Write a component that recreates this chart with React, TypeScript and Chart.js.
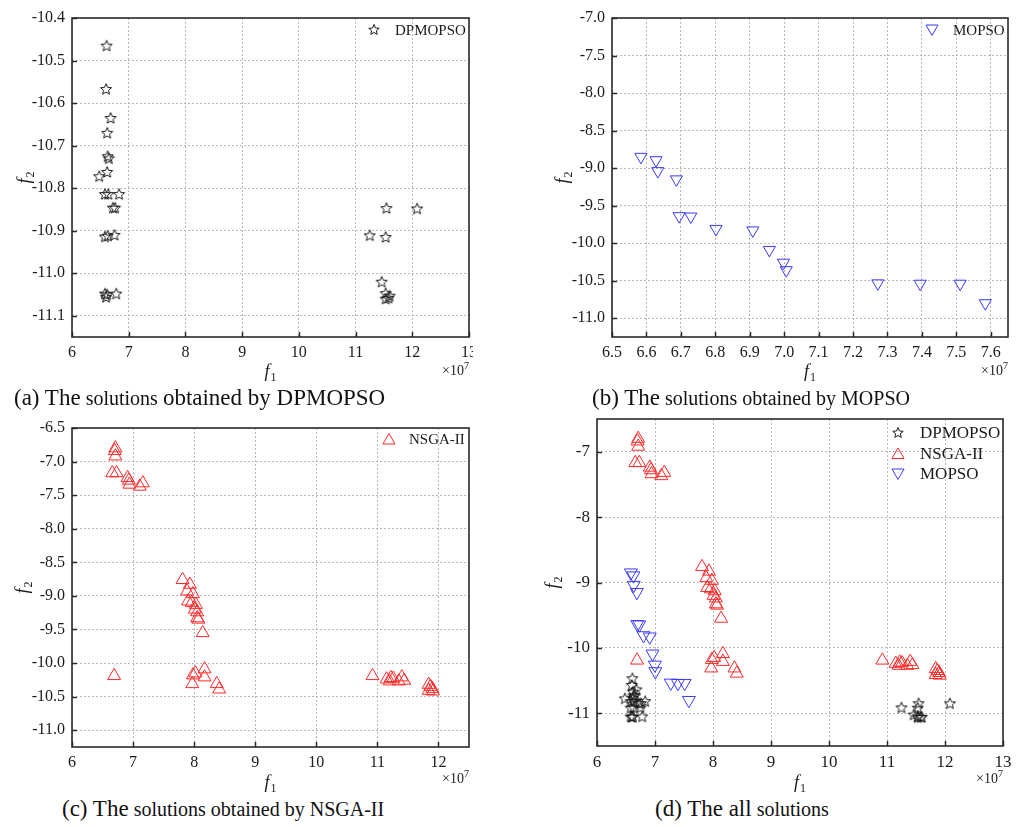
import React, { useEffect, useRef } from 'react';
import { Chart, registerables } from 'chart.js';

Chart.register(...registerables);

const FONT = '"Liberation Serif", "Times New Roman", serif';

// ---- data (f1 in units of 1e7) ----
const DPMOPSO_F1 = [6.61, 6.60, 6.68, 6.62, 6.63, 6.65, 6.62, 6.48, 6.58, 6.64, 6.83, 6.72, 6.76, 6.58, 6.63, 6.75, 6.58, 6.62, 6.78, 6.60,
  11.545, 12.085, 11.25, 11.53, 11.46, 11.53, 11.60, 11.53, 11.58];
const DPMOPSO_F2 = [-10.465, -10.567, -10.635, -10.67, -10.725, -10.73, -10.762, -10.772, -10.814, -10.814, -10.814, -10.846, -10.846, -10.914, -10.912, -10.91, -11.048, -11.05, -11.048, -11.056,
  -10.847, -10.848, -10.911, -10.915, -11.02, -11.047, -11.053, -11.06, -11.058];

const MOPSO_F1 = [6.584, 6.628, 6.633, 6.687, 6.695, 6.729, 6.802, 6.909, 6.957, 6.998, 7.006, 7.272, 7.395, 7.511, 7.584];
const MOPSO_F2 = [-8.85, -8.895, -9.04, -9.15, -9.64, -9.645, -9.81, -9.83, -10.09, -10.26, -10.36, -10.535, -10.54, -10.54, -10.8];

const NSGA_F1 = [6.71, 6.70, 6.71, 6.66, 6.73, 6.91, 6.93, 6.94, 7.16, 7.11,
  7.81, 7.93, 7.885, 7.98, 7.90, 7.96, 8.03, 8.01, 8.05, 8.05, 8.07, 8.14,
  6.69, 7.98, 8.02, 8.17, 8.17, 7.97, 8.37, 8.41,
  10.92, 11.15, 11.22, 11.26, 11.20, 11.40, 11.44, 11.35, 11.84, 11.87, 11.90, 11.91, 11.84];
const NSGA_F2 = [-6.80, -6.84, -6.92, -7.17, -7.17, -7.24, -7.28, -7.34, -7.32, -7.37,
  -8.76, -8.83, -8.93, -8.97, -9.08, -9.10, -9.13, -9.20, -9.24, -9.33, -9.35, -9.55,
  -10.19, -10.18, -10.15, -10.09, -10.21, -10.31, -10.31, -10.39,
  -10.19, -10.24, -10.22, -10.23, -10.27, -10.21, -10.26, -10.27, -10.32, -10.35, -10.38, -10.42, -10.41];

// ---- ticks ----
const A_X_TICKS = [6, 7, 8, 9, 10, 11, 12, 13];
const A_Y_TICKS = [-11.1, -11.0, -10.9, -10.8, -10.7, -10.6, -10.5, -10.4];
const B_X_TICKS = [6.5, 6.6, 6.7, 6.8, 6.9, 7.0, 7.1, 7.2, 7.3, 7.4, 7.5, 7.6];
const B_Y_TICKS = [-11.0, -10.5, -10.0, -9.5, -9.0, -8.5, -8.0, -7.5, -7.0];
const C_X_TICKS = [6, 7, 8, 9, 10, 11, 12];
const C_Y_TICKS = [-11.0, -10.5, -10.0, -9.5, -9.0, -8.5, -8.0, -7.5, -7.0, -6.5];
const D_X_TICKS = [6, 7, 8, 9, 10, 11, 12, 13];
const D_Y_TICKS = [-11, -10, -9, -8, -7];

const LABEL_DP = 'DPMOPSO';
const LABEL_NS = 'NSGA-II';
const LABEL_MO = 'MOPSO';

const C_DP = '#1a1a1a';
const C_NS = '#ff2a2a';
const C_MO = '#3a3aff';

type Kind = 'star' | 'up' | 'down';

function starPath(ctx: CanvasRenderingContext2D, cx: number, cy: number, R: number) {
  const r = R * 0.45;
  ctx.beginPath();
  for (let i = 0; i < 10; i++) {
    const ang = -Math.PI / 2 + (i * Math.PI) / 5;
    const rad = i % 2 === 0 ? R : r;
    const x = cx + rad * Math.cos(ang);
    const y = cy + rad * Math.sin(ang);
    if (i === 0) ctx.moveTo(x, y);
    else ctx.lineTo(x, y);
  }
  ctx.closePath();
}

function starImage(R: number, color: string) {
  const size = Math.ceil(2 * R + 4);
  const c = document.createElement('canvas');
  c.width = size;
  c.height = size;
  const ctx = c.getContext('2d')!;
  ctx.strokeStyle = color;
  ctx.lineWidth = 1;
  starPath(ctx, size / 2, size / 2 + R * 0.08, R);
  ctx.stroke();
  return c;
}

function triPath(ctx: CanvasRenderingContext2D, x: number, y: number, r: number, down: boolean) {
  let rad = down ? Math.PI : 0;
  ctx.beginPath();
  ctx.moveTo(x + Math.sin(rad) * r, y - Math.cos(rad) * r);
  rad += (2 * Math.PI) / 3;
  ctx.lineTo(x + Math.sin(rad) * r, y - Math.cos(rad) * r);
  rad += (2 * Math.PI) / 3;
  ctx.lineTo(x + Math.sin(rad) * r, y - Math.cos(rad) * r);
  ctx.closePath();
}

function drawF(ctx: CanvasRenderingContext2D, x: number, y: number, sub: string, size: number) {
  ctx.textAlign = 'left';
  ctx.textBaseline = 'alphabetic';
  ctx.font = `italic ${size}px ${FONT}`;
  const wf = ctx.measureText('f').width;
  const ss = Math.round(size * 0.65);
  ctx.font = `${ss}px ${FONT}`;
  const ws = ctx.measureText(sub).width;
  const x0 = x - (wf + ws + 1) / 2;
  const base = y + size * 0.3;
  ctx.font = `italic ${size}px ${FONT}`;
  ctx.fillText('f', x0, base);
  ctx.font = `${ss}px ${FONT}`;
  ctx.fillText(sub, x0 + wf + 1, base + size * 0.22);
}

function drawExp(ctx: CanvasRenderingContext2D, right: number, y: number, size: number) {
  ctx.textAlign = 'left';
  ctx.textBaseline = 'alphabetic';
  ctx.font = `${size}px ${FONT}`;
  const w1 = ctx.measureText('×10').width;
  const ss = Math.round(size * 0.72);
  ctx.font = `${ss}px ${FONT}`;
  const w2 = ctx.measureText('7').width;
  const x0 = right - w1 - w2;
  const base = y + size * 0.35;
  ctx.font = `${size}px ${FONT}`;
  ctx.fillText('×10', x0, base);
  ctx.font = `${ss}px ${FONT}`;
  ctx.fillText('7', x0 + w1, base - size * 0.42);
}

type Series = { label: string; f1: number[]; f2: number[]; kind: Kind; color: string; size: number };

type PanelCfg = {
  left: number; top: number; width: number; height: number;
  plot: { l: number; t: number; r: number; b: number };
  xMin: number; xMax: number; yMin: number; yMax: number;
  xTicks: number[]; yTicks: number[];
  xDec: number; yDec: number;
  tickSize: number;
  series: Series[];
  legend: { markerX: number; textX: number; y0: number; dy: number; size: number };
  xTitleY: number; yTitleX: number; expY: number;
};

function Panel({ cfg }: { cfg: PanelCfg }) {
  const ref = useRef<HTMLCanvasElement>(null);
  useEffect(() => {
    const canvas = ref.current!;
    const { plot, width: W, height: H } = cfg;
    const decor = {
      id: 'decor',
      afterDatasetsDraw(chart: any) {
        const { ctx, chartArea } = chart;
        const { left, top, right, bottom } = chartArea;
        const xs = chart.scales.x;
        const ys = chart.scales.y;
        ctx.save();
        ctx.setLineDash([]);
        ctx.strokeStyle = '#2a2a2a';
        ctx.lineWidth = 1.5;
        xs.ticks.forEach((t: any) => {
          const px = Math.round(xs.getPixelForValue(t.value)) + 0.5;
          ctx.beginPath();
          ctx.moveTo(px, bottom);
          ctx.lineTo(px, bottom - 5);
          ctx.stroke();
        });
        ys.ticks.forEach((t: any) => {
          const py = Math.round(ys.getPixelForValue(t.value)) + 0.5;
          ctx.beginPath();
          ctx.moveTo(left, py);
          ctx.lineTo(left + 5, py);
          ctx.stroke();
        });
        ctx.lineWidth = 1.6;
        ctx.strokeRect(left, top, right - left, bottom - top);
        ctx.restore();
      },
      afterDraw(chart: any) {
        const { ctx, chartArea } = chart;
        const { left, top, right, bottom } = chartArea;
        ctx.save();
        ctx.fillStyle = '#1a1a1a';
        drawF(ctx, (left + right) / 2, cfg.xTitleY, '1', 18);
        ctx.save();
        ctx.translate(cfg.yTitleX, (top + bottom) / 2);
        ctx.rotate(-Math.PI / 2);
        drawF(ctx, 0, 0, '2', 18);
        ctx.restore();
        drawExp(ctx, right, cfg.expY, 14);
        const lg = cfg.legend;
        cfg.series.forEach((s, i) => {
          const y = lg.y0 + i * lg.dy;
          ctx.strokeStyle = s.color;
          ctx.lineWidth = 1;
          if (s.kind === 'star') {
            starPath(ctx, lg.markerX, y, 5.5);
          } else {
            triPath(ctx, lg.markerX, y + (s.kind === 'up' ? 1.5 : -1.5), 7, s.kind === 'down');
          }
          ctx.stroke();
          ctx.fillStyle = '#1a1a1a';
          ctx.font = `${lg.size}px ${FONT}`;
          ctx.textAlign = 'left';
          ctx.textBaseline = 'middle';
          ctx.fillText(s.label, lg.textX, y + 1);
        });
        ctx.restore();
      },
    };

    const chart = new Chart(canvas, {
      type: 'scatter',
      data: {
        datasets: cfg.series.map((s) => ({
          label: s.label,
          data: s.f1.map((x, i) => ({ x, y: s.f2[i] })),
          pointStyle: s.kind === 'star' ? starImage(s.size, s.color) : 'triangle',
          pointRotation: s.kind === 'down' ? 180 : 0,
          pointRadius: s.size,
          pointHoverRadius: s.size,
          borderColor: s.color,
          pointBorderColor: s.color,
          backgroundColor: 'rgba(0,0,0,0)',
          pointBackgroundColor: 'rgba(0,0,0,0)',
          borderWidth: 1,
          pointBorderWidth: 1,
          clip: 10,
        })) as any,
      },
      options: {
        responsive: false,
        animation: false,
        devicePixelRatio: 1,
        events: [],
        layout: { autoPadding: false, padding: { left: 0, top: plot.t, right: W - plot.r, bottom: 0 } } as any,
        plugins: { legend: { display: false }, tooltip: { enabled: false } },
        scales: {
          x: {
            type: 'linear',
            position: 'bottom',
            min: cfg.xMin,
            max: cfg.xMax,
            afterBuildTicks: (s: any) => {
              s.ticks = cfg.xTicks.map((v) => ({ value: v }));
            },
            afterFit: (s: any) => {
              s.height = H - plot.b;
              s.paddingLeft = 0;
              s.paddingRight = 0;
            },
            grid: { color: '#b8b8b8', lineWidth: 1, drawTicks: false },
            border: { display: false, dash: [2, 2] },
            ticks: {
              autoSkip: false,
              maxRotation: 0,
              padding: 6,
              color: '#1a1a1a',
              font: { family: FONT, size: cfg.tickSize },
              callback: (v: any) => Number(v).toFixed(cfg.xDec),
            },
          },
          y: {
            type: 'linear',
            position: 'left',
            min: cfg.yMin,
            max: cfg.yMax,
            afterBuildTicks: (s: any) => {
              s.ticks = cfg.yTicks.map((v) => ({ value: v }));
            },
            afterFit: (s: any) => {
              s.width = plot.l;
              s.paddingTop = 0;
              s.paddingBottom = 0;
            },
            grid: { color: '#b8b8b8', lineWidth: 1, drawTicks: false },
            border: { display: false, dash: [2, 2] },
            ticks: {
              autoSkip: false,
              padding: 7,
              color: '#1a1a1a',
              font: { family: FONT, size: cfg.tickSize },
              callback: (v: any) => Number(v).toFixed(cfg.yDec),
            },
          },
        } as any,
      },
      plugins: [decor as any],
    });
    return () => chart.destroy();
  }, []);
  return (
    <canvas
      ref={ref}
      width={cfg.width}
      height={cfg.height}
      style={{ position: 'absolute', left: cfg.left, top: cfg.top, width: cfg.width, height: cfg.height }}
    />
  );
}

const PANEL_A: PanelCfg = {
  left: 0, top: 0, width: 473, height: 390,
  plot: { l: 72, t: 18, r: 469, b: 337 },
  xMin: 6, xMax: 13, yMin: -11.15, yMax: -10.4,
  xTicks: A_X_TICKS, yTicks: A_Y_TICKS, xDec: 0, yDec: 1, tickSize: 16,
  series: [{ label: LABEL_DP, f1: DPMOPSO_F1, f2: DPMOPSO_F2, kind: 'star', color: C_DP, size: 5.8 }],
  legend: { markerX: 374, textX: 395, y0: 30, dy: 20, size: 15 },
  xTitleY: 372, yTitleX: 25, expY: 370,
};

const PANEL_B: PanelCfg = {
  left: 520, top: 0, width: 498, height: 390,
  plot: { l: 92, t: 18, r: 488, b: 337 },
  xMin: 6.5, xMax: 7.65, yMin: -11.25, yMax: -7.0,
  xTicks: B_X_TICKS, yTicks: B_Y_TICKS, xDec: 1, yDec: 1, tickSize: 16,
  series: [{ label: LABEL_MO, f1: MOPSO_F1, f2: MOPSO_F2, kind: 'down', color: C_MO, size: 7 }],
  legend: { markerX: 412, textX: 433, y0: 30, dy: 20, size: 15 },
  xTitleY: 372, yTitleX: 43, expY: 370,
};

const PANEL_C: PanelCfg = {
  left: 0, top: 415, width: 480, height: 380,
  plot: { l: 72, t: 13, r: 469, b: 332 },
  xMin: 6, xMax: 12.5, yMin: -11.25, yMax: -6.5,
  xTicks: C_X_TICKS, yTicks: C_Y_TICKS, xDec: 0, yDec: 1, tickSize: 16,
  series: [{ label: LABEL_NS, f1: NSGA_F1, f2: NSGA_F2, kind: 'up', color: C_NS, size: 7.5 }],
  legend: { markerX: 389, textX: 409, y0: 24, dy: 20, size: 15 },
  xTitleY: 368, yTitleX: 23, expY: 363,
};

const PANEL_D: PanelCfg = {
  left: 520, top: 405, width: 498, height: 390,
  plot: { l: 77, t: 14, r: 483, b: 341 },
  xMin: 6, xMax: 13, yMin: -11.5, yMax: -6.5,
  xTicks: D_X_TICKS, yTicks: D_Y_TICKS, xDec: 0, yDec: 0, tickSize: 17,
  series: [
    { label: LABEL_DP, f1: DPMOPSO_F1, f2: DPMOPSO_F2, kind: 'star', color: C_DP, size: 5.8 },
    { label: LABEL_NS, f1: NSGA_F1, f2: NSGA_F2, kind: 'up', color: C_NS, size: 7.5 },
    { label: LABEL_MO, f1: MOPSO_F1, f2: MOPSO_F2, kind: 'down', color: C_MO, size: 7.5 },
  ],
  legend: { markerX: 378, textX: 400, y0: 28, dy: 20.5, size: 17 },
  xTitleY: 378, yTitleX: 33, expY: 373,
};

const capStyle: React.CSSProperties = {
  position: 'absolute',
  fontFamily: FONT,
  fontSize: 20,
  lineHeight: '26px',
  color: '#111',
  whiteSpace: 'nowrap',
};

const big: React.CSSProperties = { fontSize: 23 };

export default function App() {
  return (
    <div style={{ position: 'absolute', left: 0, top: 0, width: 1018, height: 827, background: '#ffffff', overflow: 'hidden' }}>
      <Panel cfg={PANEL_A} />
      <Panel cfg={PANEL_B} />
      <Panel cfg={PANEL_C} />
      <Panel cfg={PANEL_D} />
      <div style={{ ...capStyle, left: 14, top: 385 }}>
        <span style={big}>(a) The</span> solutions <span style={big}>obtained by DPMOPSO</span>
      </div>
      <div style={{ ...capStyle, left: 592, top: 385 }}>
        <span style={big}>(b) The</span> solutions obtained by MOPSO
      </div>
      <div style={{ ...capStyle, left: 62, top: 796 }}>
        <span style={big}>(c) The</span> solutions obtained by NSGA-II
      </div>
      <div style={{ ...capStyle, left: 655, top: 796 }}>
        <span style={big}>(d) The all</span> solutions
      </div>
    </div>
  );
}
